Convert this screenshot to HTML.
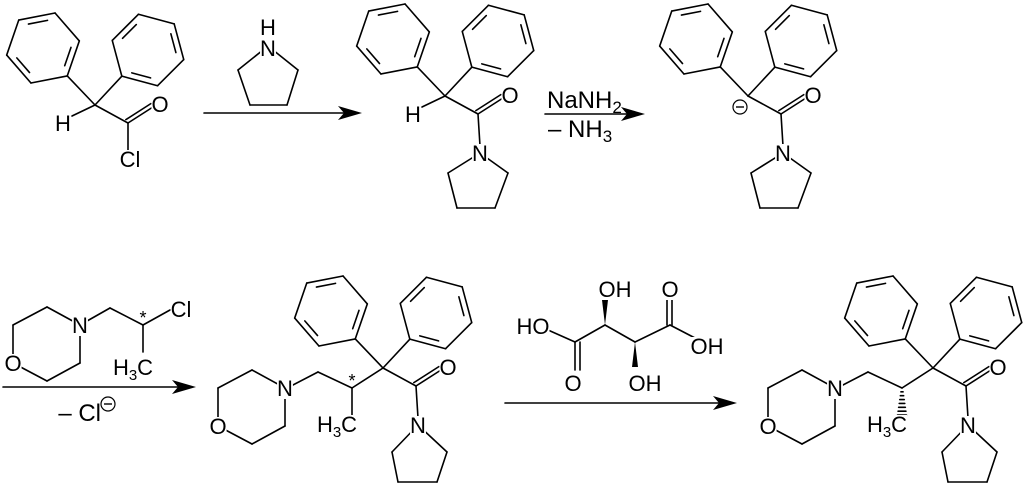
<!DOCTYPE html>
<html><head><meta charset="utf-8"><style>
html,body{margin:0;padding:0;background:#fff;}
svg{display:block;}
svg text, svg tspan{font-family:"Liberation Sans",sans-serif;fill:#000;}
</style></head><body>
<svg id="s" width="1024" height="490" xmlns="http://www.w3.org/2000/svg">
<g id="b" stroke="#000" stroke-width="1.6" fill="none" stroke-linecap="round"></g>
<g id="t" text-anchor="middle"></g>
</svg>
<script>
var B=document.getElementById('b'),T=document.getElementById('t'),NS='http://www.w3.org/2000/svg';
function L(x1,y1,x2,y2){var e=document.createElementNS(NS,'line');e.setAttribute('x1',x1);e.setAttribute('y1',y1);e.setAttribute('x2',x2);e.setAttribute('y2',y2);B.appendChild(e);}
function P(pts){var e=document.createElementNS(NS,'polygon');e.setAttribute('points',pts);e.setAttribute('fill','#000');e.setAttribute('stroke','none');document.getElementById('s').appendChild(e);}
function X(x,y,html,size,anchor,nobg){var e=document.createElementNS(NS,'text');e.setAttribute('x',x);e.setAttribute('y',y);var sz=(size||22);e.setAttribute('font-size',sz);if(anchor)e.setAttribute('text-anchor',anchor);
 e.innerHTML='<tspan font-size="'+sz+'" style="font-size:'+sz+'px">'+html+'</tspan>';T.appendChild(e);
 if(!nobg){try{var bb=e.getBBox();var r=document.createElementNS(NS,'rect');r.setAttribute('x',bb.x);r.setAttribute('y',bb.y+3);r.setAttribute('width',bb.width);r.setAttribute('height',bb.height-5);r.setAttribute('fill','#fff');T.insertBefore(r,e);}catch(err){}}}
function SUB(n,s){s=s||15;return '<tspan font-size="'+s+'" style="font-size:'+s+'px" dy="5">'+n+'</tspan>';}
var SUB3=SUB(3);
function D(x1,y1,x2,y2,side){var dx=x2-x1,dy=y2-y1,l=Math.hypot(dx,dy),nx=-dy/l*4*side,ny=dx/l*4*side;L(x1+nx,y1+ny,x2+nx,y2+ny);}
function ring(cx,cy,R,a0){var v=[];for(var i=0;i<6;i++){var a=(a0+60*i)*Math.PI/180;v.push([cx+R*Math.cos(a),cy+R*Math.sin(a)]);}
 for(var i=0;i<6;i++){var p=v[i],q=v[(i+1)%6];L(p[0],p[1],q[0],q[1]);
  if(i%2==1){var s=0.18,ax=p[0]+(q[0]-p[0])*s,ay=p[1]+(q[1]-p[1])*s,bx=q[0]+(p[0]-q[0])*s,by=q[1]+(p[1]-q[1])*s;
   var f=0.82;L(cx+(ax-cx)*f,cy+(ay-cy)*f,cx+(bx-cx)*f,cy+(by-cy)*f);}}
 return v[0];}
function arrow(x1,x2,y){L(x1,y,x2-10,y);P((x2-24)+','+(y-7)+' '+x2+','+y+' '+(x2-24)+','+(y+7)+' '+(x2-18)+','+y);}
function circ(x,y){var cc=document.createElementNS(NS,'circle');cc.setAttribute('cx',x);cc.setAttribute('cy',y);cc.setAttribute('r',7);cc.setAttribute('fill','#fff');cc.setAttribute('stroke','#000');cc.setAttribute('stroke-width','1.2');document.getElementById('s').appendChild(cc);var e=document.createElementNS(NS,'line');e.setAttribute('x1',x-4);e.setAttribute('x2',x+4);e.setAttribute('y1',y);e.setAttribute('y2',y);e.setAttribute('stroke','#000');e.setAttribute('stroke-width','1.4');document.getElementById('s').appendChild(e);}
function core(x,y,hasN,py){
 var a=ring(x-52,y-57,37,49);L(a[0],a[1],x,y);
 var b=ring(x+53,y-55,37,135);L(b[0],b[1],x,y);
 var cx=x+33,cy=y+18;L(x,y,cx,cy);L(cx,cy,x+58,y+2);D(cx,cy,x+58,y+2,-1);X(x+65,y+7,'O');
 if(hasN){L(cx,cy,cx+2,y+50);X(x+35,y+65,'N');
  var p=py||[[x+3,y+77],[x+12,y+112],[x+50,y+112],[x+63,y+77]];
  L(x+35,y+57,p[0][0],p[0][1]);L(p[0][0],p[0][1],p[1][0],p[1][1]);L(p[1][0],p[1][1],p[2][0],p[2][1]);L(p[2][0],p[2][1],p[3][0],p[3][1]);L(p[3][0],p[3][1],x+35,y+57);}
 return [cx,cy];}
var c=core(95,105,false);L(c[0],c[1],c[0],c[1]+28);X(c[0]+2,c[1]+44,'Cl');L(95,105,72,116);X(63,131,'H');
L(268,46,238,70);L(238,70,250,105);L(250,105,287,105);L(287,105,298,70);L(298,70,268,46);X(268,56,'N');X(268,35,'H');
arrow(204,362,113);
core(445,96,true);L(445,96,422,107);X(413,122,'H');
arrow(545,645,114);
X(547,108,'NaNH'+SUB(2,17),24,'start',true);
X(548,137,'– NH'+SUB(3,17),24,'start',true);
core(748,96,true);
circ(740,107);
function morph(nx,ny){var v=[[nx-33,ny-18],[nx-67,ny],[nx-67,ny+38],[nx-33,ny+56],[nx,ny+38]];
 L(nx,ny,v[0][0],v[0][1]);L(v[0][0],v[0][1],v[1][0],v[1][1]);L(v[1][0],v[1][1],v[2][0],v[2][1]);L(v[2][0],v[2][1],v[3][0],v[3][1]);L(v[3][0],v[3][1],v[4][0],v[4][1]);L(v[4][0],v[4][1],nx,ny);X(nx,ny+8,'N');X(v[2][0],v[2][1]+8,'O');}
morph(80,325);L(80,325,110,308);L(110,308,143,325);L(143,325,170,310);X(181,317,'Cl');L(143,325,143,352);
X(133,375,'H'+SUB3+'<tspan dy="-5">C</tspan>');X(143,324,'*',18,null,true);
arrow(3,196,387);X(101,421,'– Cl',24,'end',true);
circ(108,404);
function bottom(x,hash){var y=368;
 core(x,y,true,[[x+9,y+84],[x+15,y+114],[x+54,y+114],[x+64,y+84]]);
 var ch=[x-31,y+20];L(x,y,ch[0],ch[1]);L(ch[0],ch[1],x-65,y+4);L(x-65,y+4,x-92,y+18);
 if(hash){for(var i=1;i<=7;i++){var t=i/7,yy=ch[1]+t*27,w=0.5+t*4;L(ch[0]-w,yy,ch[0]+w,yy);}}
 else{L(ch[0],ch[1],ch[0],ch[1]+27);X(ch[0],ch[1]-1,'*',18,null,true);}
 morph(x-98,y+20);
 X(ch[0]-15,y+64,'H'+SUB3+'<tspan dy="-5">C</tspan>');}
bottom(383,false);bottom(933,true);
L(548,330,575,342);X(533,334,'HO');L(575,342,575,370);L(580,342,580,370);X(573,391,'O');
L(575,342,605,325);P('605,325 602,300 608,300');X(615,297,'OH');
L(605,325,635,342);P('635,342 632,367 638,367');X(645,391,'OH');
L(635,342,670,325);L(667,325,667,298);L(672,325,672,298);X(670,297,'O');L(670,325,695,338);X(707,354,'OH');
arrow(505,737,403);
</script>
</body></html>
